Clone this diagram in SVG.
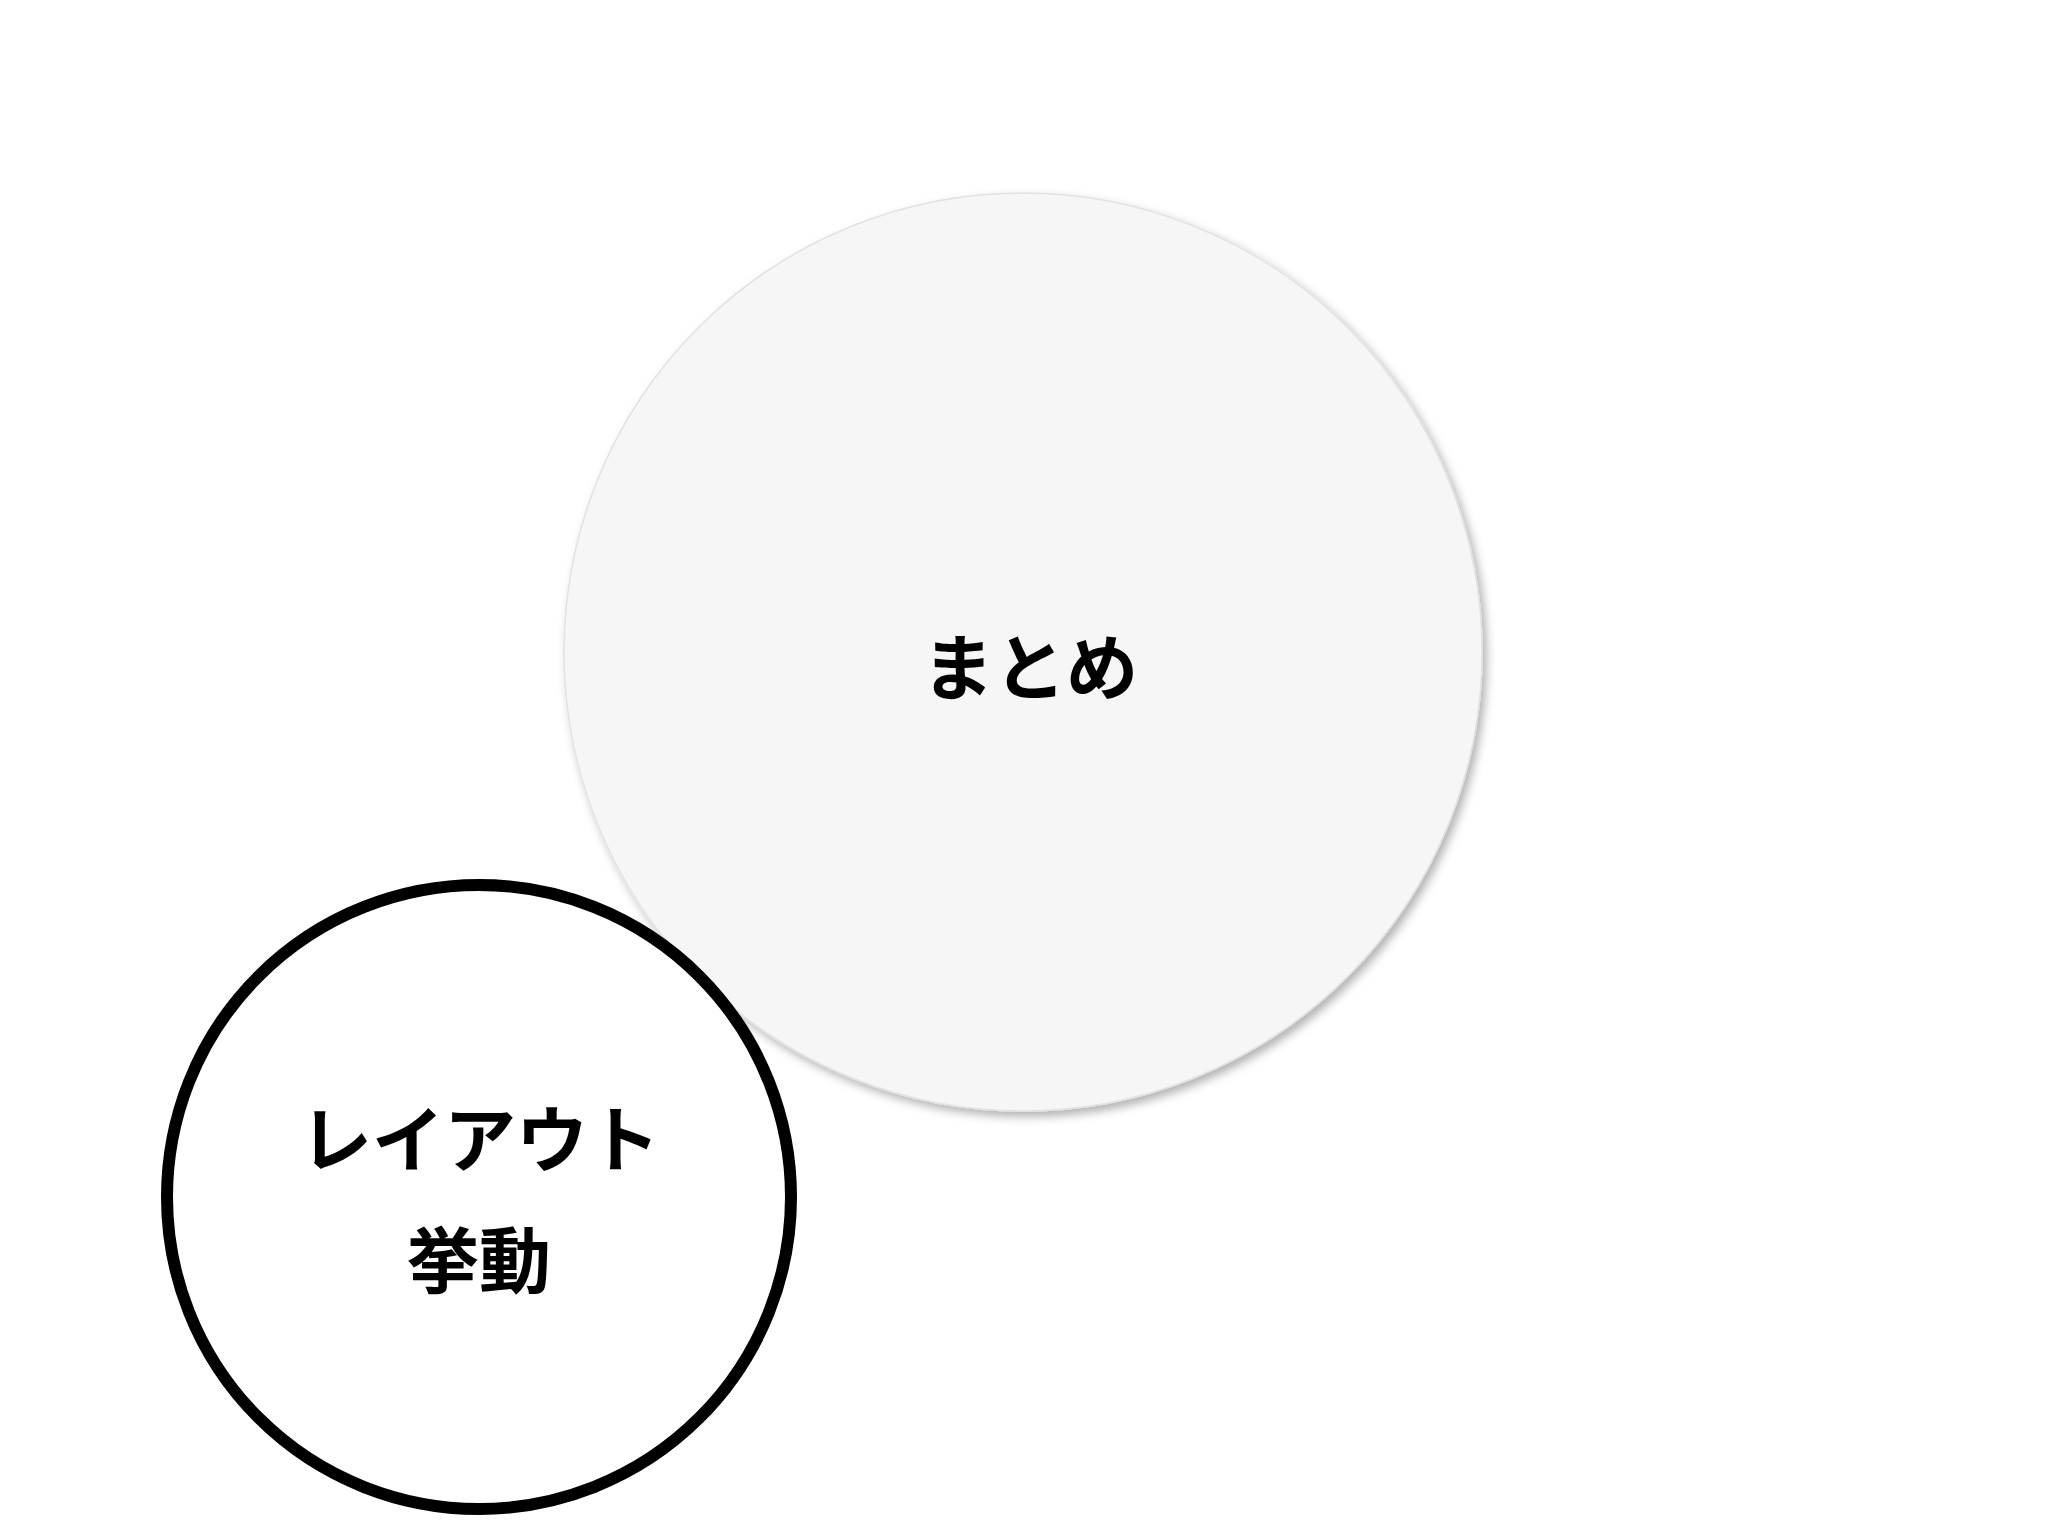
<svg xmlns="http://www.w3.org/2000/svg" width="2048" height="1536" viewBox="0 0 2048 1536">
  <defs>
    <filter id="shadow" x="-10%" y="-10%" width="120%" height="120%">
      <feDropShadow dx="4" dy="5" stdDeviation="5" flood-color="#000" flood-opacity="0.3"/>
    </filter>
    <style>
      .label { font-family: "Noto Sans CJK JP", "Noto Sans", sans-serif; font-size: 72px; font-weight: bold; fill: #000; text-anchor: middle; dominant-baseline: central; }
      .big { fill: #f6f6f6; stroke: #e2e2e2; stroke-width: 1.5; filter: url(#shadow); }
      .small { fill: #fff; stroke: #000; stroke-width: 12; }
    </style>
  </defs>
  <rect width="2048" height="1536" fill="#fff"/>
  <g id="connectors"/>
  <g id="node-matome">
    <circle class="big" cx="1023" cy="652" r="459"/>
    <text class="label" x="1030" y="662">まとめ</text>
  </g>
  <g id="node-layout">
    <circle class="small" cx="479" cy="1197" r="312"/>
    <text class="label" x="480" y="1134">レイアウト</text>
    <text class="label" x="479" y="1255">挙動</text>
  </g>
</svg>
